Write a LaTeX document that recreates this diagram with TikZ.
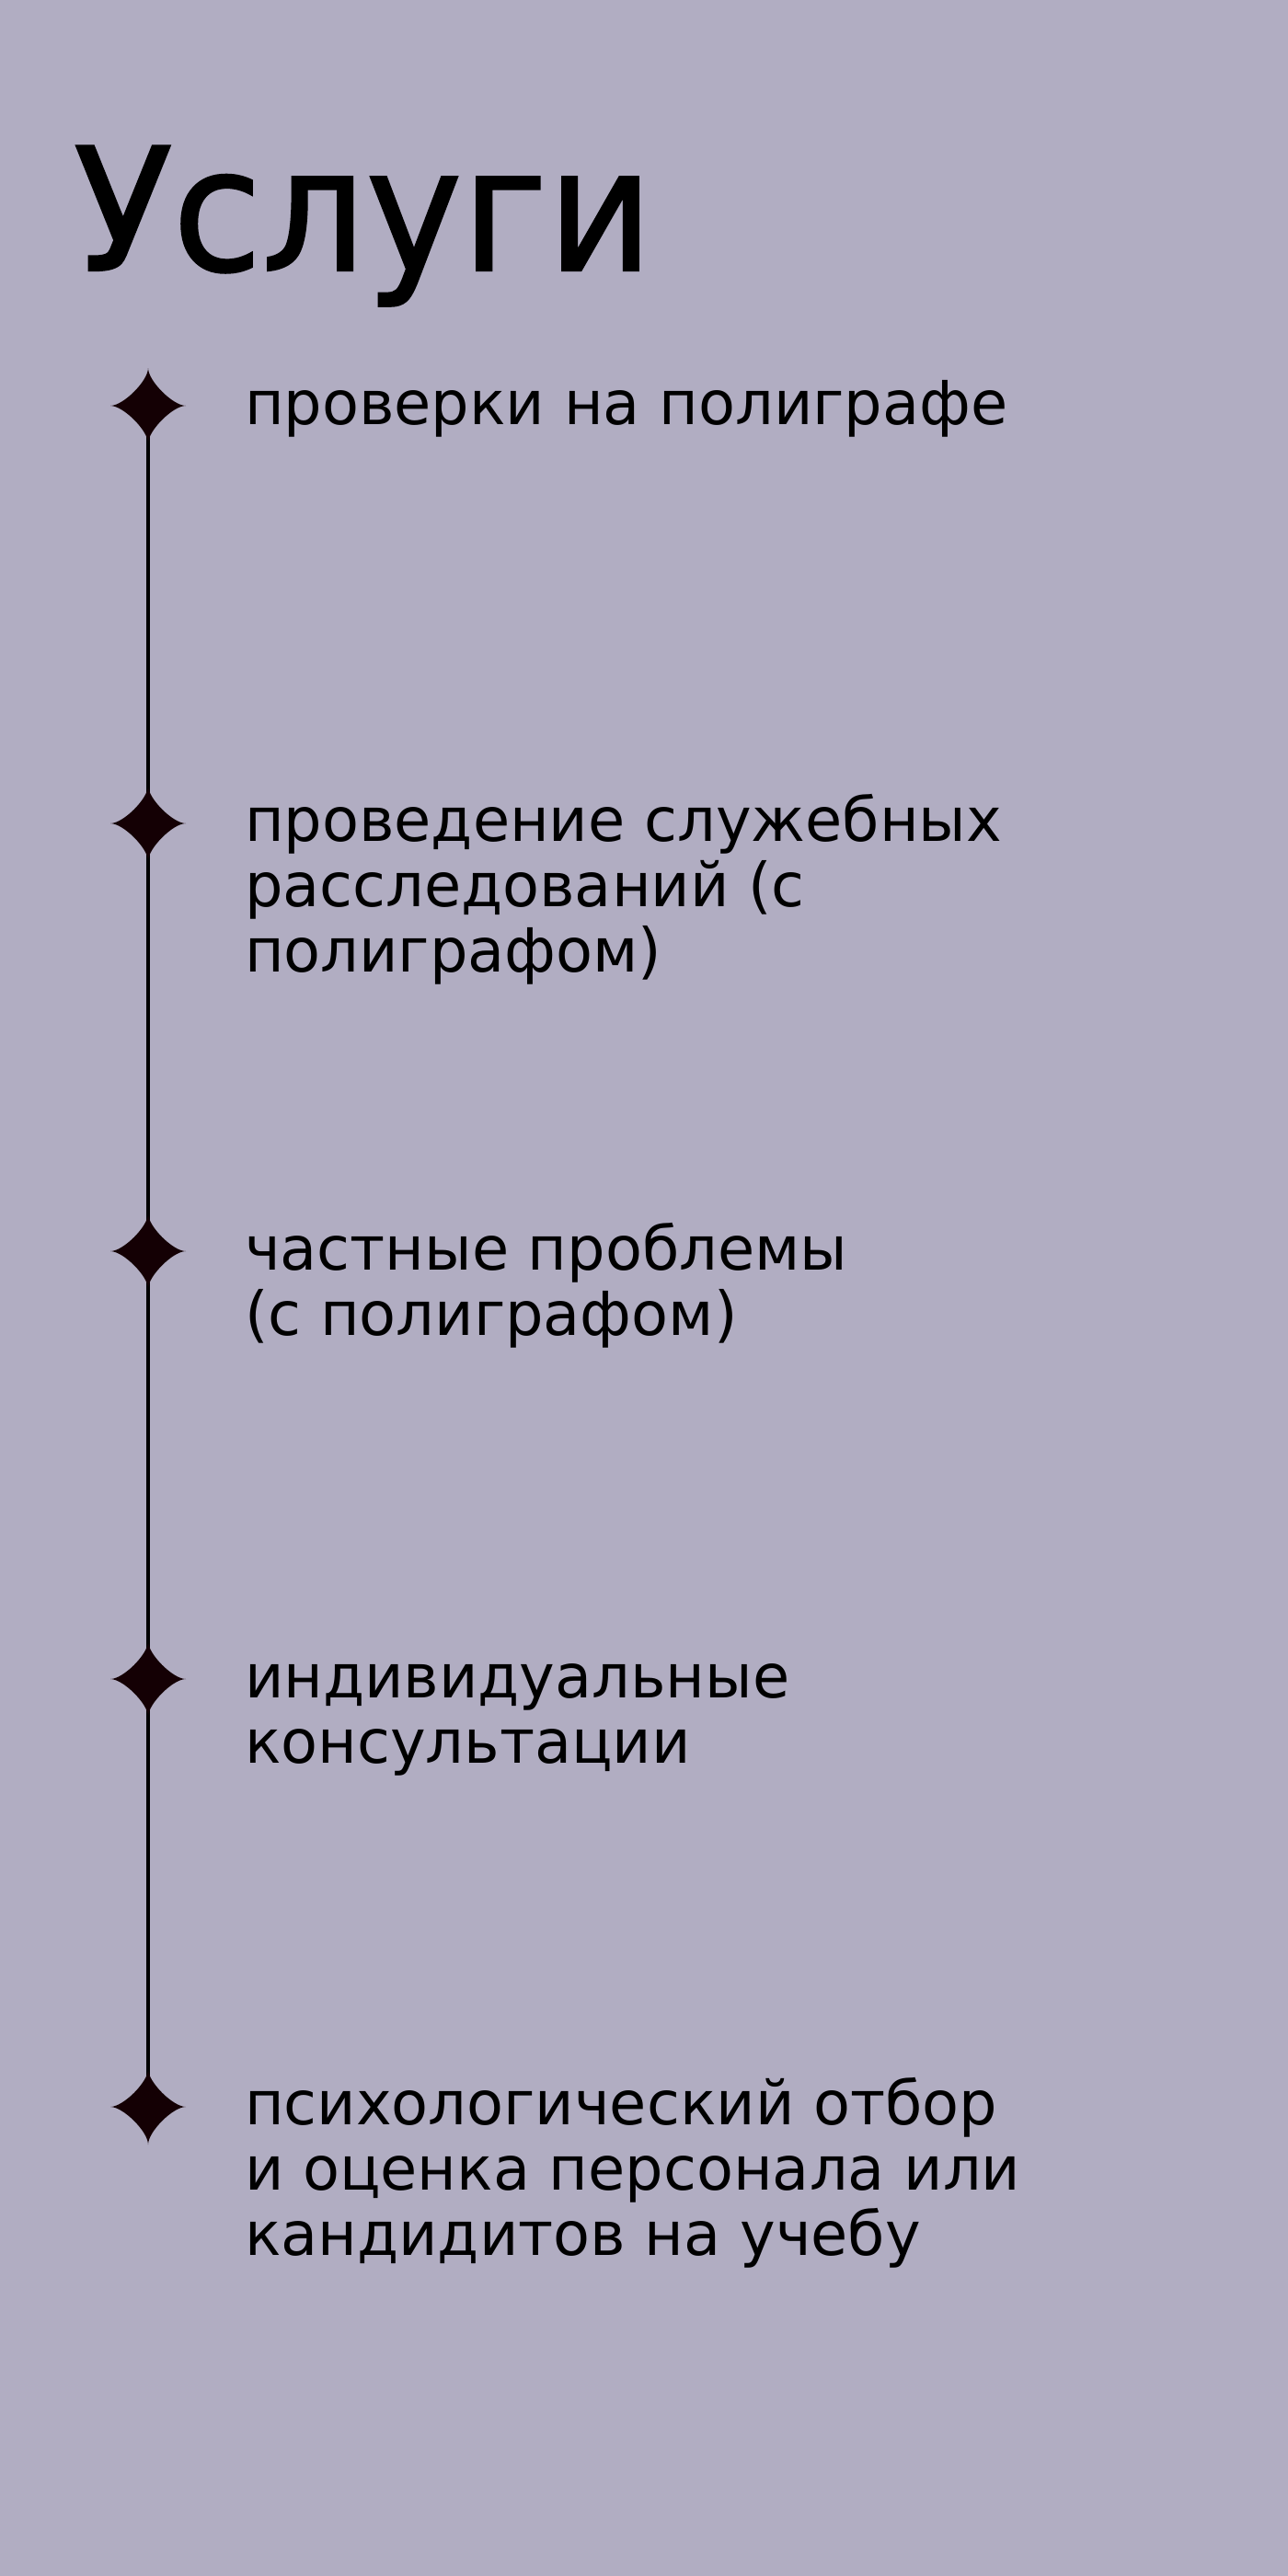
\documentclass[tikz,border=0pt]{standalone}
\usepackage{fontspec}
\setmainfont[FakeStretch=0.99]{DejaVu Sans}
\newfontfamily\titlefont[FakeBold=1.2,FakeStretch=0.95]{DejaVu Sans}
\usetikzlibrary{positioning}

\def\totalwidth{1400}
\def\totalheight{2800}
\def\starx{161}
\def\textx{266}
\def\itemskip{71.4}
\definecolor{bgcolor}{HTML}{B1ADC2}
\definecolor{sparkcolor}{HTML}{140004}

\tikzstyle{title}   = [anchor=base west,inner sep=0pt,outer sep=0pt,
                       font=\titlefont\fontsize{186}{186}\selectfont]
\tikzstyle{item}    = [anchor=base west,inner sep=0pt,outer sep=0pt,align=left,
                       font=\fontsize{66}{71.4}\selectfont]
\tikzset{spark/.pic={\fill[sparkcolor] (0,-41) .. controls (0,-27) and (27,0) .. (41,0)
                          .. controls (27,0) and (0,27) .. (0,41)
                          .. controls (0,27) and (-27,0) .. (-41,0)
                          .. controls (-27,0) and (0,-27) .. (0,-41) -- cycle;}
}

\begin{document}
\begin{tikzpicture}[x=1pt,y=-1pt]
        \useasboundingbox[fill=bgcolor] (0,0) rectangle (\totalwidth,\totalheight);

        % Title
        \node[title] (T) at (80,294) {Услуги};

        % Stars
        \coordinate (S1) at (\starx,441);
        \coordinate (S2) at (\starx,895);
        \coordinate (S3) at (\starx,1360);
        \coordinate (S4) at (\starx,1825);
        \coordinate (S5) at (\starx,2290);

        \draw[line width=4pt] (S1) -- (S5);
        \pic at (S1) {spark};
        \pic at (S2) {spark};
        \pic at (S3) {spark};
        \pic at (S4) {spark};
        \pic at (S5) {spark};

        % Items (base anchor sits on the last line)
        \node[item] (I1) at (\textx,461)                {проверки на полиграфе};
        \node[item] (I2) at (\textx,914+2*\itemskip)    {проведение служебных\\расследований (с\\полиграфом)};
        \node[item] (I3) at (\textx,1380+\itemskip)     {частные проблемы\\(с полиграфом)};
        \node[item] (I4) at (\textx,1845+\itemskip)     {индивидуальные\\консультации};
        \node[item] (I5) at (\textx,2309+2*\itemskip)   {психологический отбор\\и оценка персонала или\\кандидитов на учебу};
\end{tikzpicture}
\end{document}
